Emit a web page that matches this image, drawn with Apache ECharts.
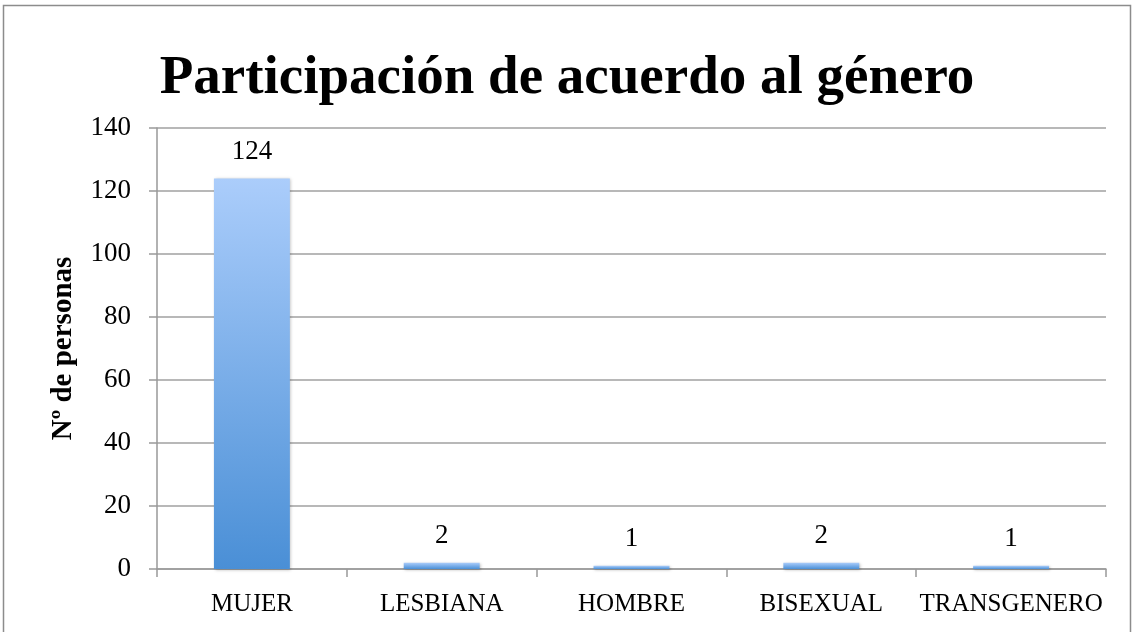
<!DOCTYPE html>
<html>
<head>
<meta charset="utf-8">
<script src="https://cdn.jsdelivr.net/npm/echarts@6/dist/echarts.min.js"></script>
<style>
  html, body { margin: 0; padding: 0; background: #fff; }
  #chart { width: 1133px; height: 632px; }
</style>
</head>
<body>
<div id="chart"></div>
<script>
const categories = ["MUJER", "LESBIANA", "HOMBRE", "BISEXUAL", "TRANSGENERO"];
const personas = [124, 2, 1, 2, 1];
const yTicks = { min: 0, max: 140, interval: 20 };

const serif = "'Liberation Serif', 'DejaVu Serif', serif";
const chart = echarts.init(document.getElementById("chart"));

chart.setOption({
  animation: false,
  title: {
    text: "Participación de acuerdo al género",
    left: 562,
    top: 46,
    textAlign: "center",
    textStyle: { fontFamily: serif, fontWeight: "bold", fontSize: 55, color: "#000" },
  },
  graphic: [
    {
      type: "rect",
      shape: { x: 3.5, y: 5.5, width: 1127, height: 640 },
      style: { fill: "none", stroke: "#8c8c8c", lineWidth: 1.5 },
      silent: true,
    },
  ],
  grid: { left: 157, right: 27, top: 128, bottom: 63 },
  xAxis: {
    type: "category",
    data: categories,
    axisLine: { lineStyle: { color: "#999", width: 1.5 } },
    axisTick: { show: true, length: 8, lineStyle: { color: "#999", width: 1.5 } },
    axisLabel: { fontFamily: serif, fontSize: 25, color: "#000", margin: 23, interval: 0 },
  },
  yAxis: {
    type: "value",
    min: yTicks.min,
    max: yTicks.max,
    interval: yTicks.interval,
    name: "Nº de personas",
    nameLocation: "middle",
    nameGap: 79,
    nameRotate: 90,
    nameTextStyle: { fontFamily: serif, fontWeight: "bold", fontSize: 29, color: "#000" },
    axisLine: { show: true, lineStyle: { color: "#999", width: 1.5 } },
    axisTick: { show: true, length: 8, lineStyle: { color: "#999", width: 1.5 } },
    axisLabel: { fontFamily: serif, fontSize: 27, color: "#000", margin: 26 },
    splitLine: { lineStyle: { color: "#a0a0a0", width: 1.5 } },
  },
  series: [
    {
      type: "bar",
      data: personas,
      barWidth: "40%",
      itemStyle: {
        color: new echarts.graphic.LinearGradient(0, 0, 0, 1, [
          { offset: 0, color: "#abcdfb" },
          { offset: 1, color: "#4a8fd6" },
        ]),
        shadowBlur: 3,
        shadowColor: "rgba(0,0,0,0.25)",
        shadowOffsetX: 1,
        shadowOffsetY: 1,
      },
      label: {
        show: true,
        position: "top",
        distance: 13,
        fontFamily: serif,
        fontSize: 27,
        color: "#000",
      },
    },
  ],
});
</script>
</body>
</html>
